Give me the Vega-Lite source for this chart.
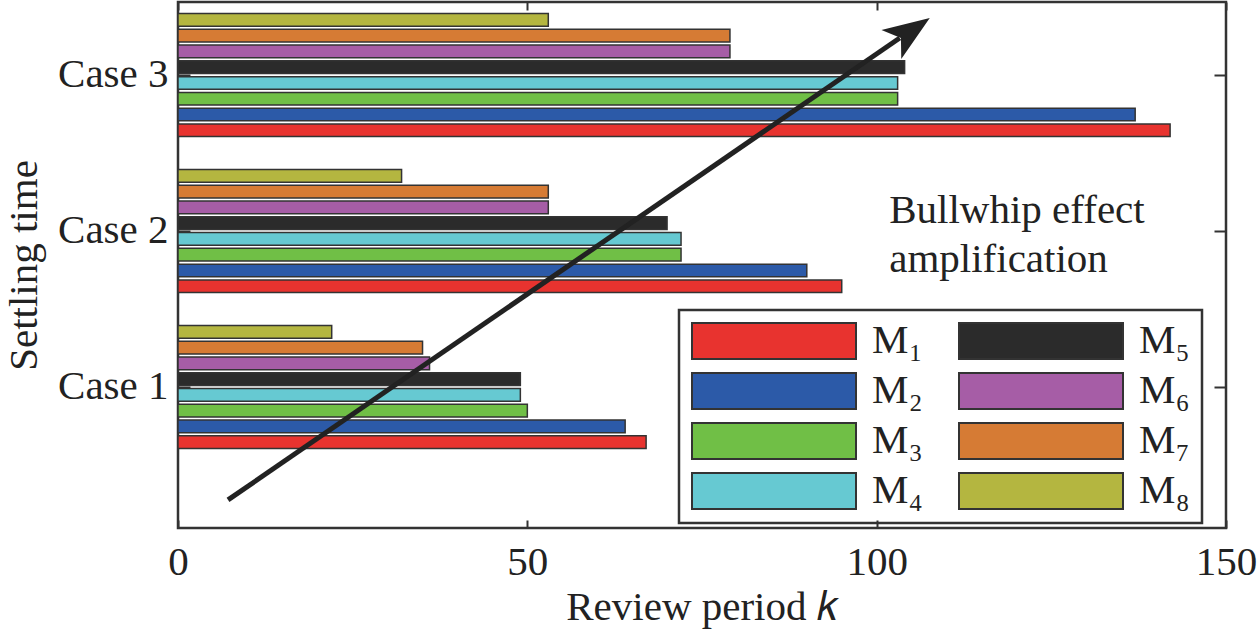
{
  "$schema": "https://vega.github.io/schema/vega-lite/v6.json",
  "width": 1048,
  "height": 526,
  "autosize": "none",
  "padding": {"left": 178, "top": 2, "right": 34, "bottom": 105},
  "background": "white",
  "config": {
    "font": "Liberation Serif",
    "view": {"stroke": "#333333", "strokeWidth": 2.5},
    "legend": {"strokeWidth": 2.5},
    "axis": {
      "labelFont": "Liberation Serif",
      "titleFont": "Liberation Serif",
      "labelFontSize": 41,
      "titleFontSize": 41,
      "labelColor": "#222222",
      "titleColor": "#222222",
      "titleFontWeight": "normal",
      "grid": false,
      "domain": false,
      "tickColor": "#333333",
      "tickWidth": 2
    }
  },
  "datasets": {
    "bars": [
      {"case": "Case 1", "model": "M₁", "period": 67},
      {"case": "Case 1", "model": "M₂", "period": 64},
      {"case": "Case 1", "model": "M₃", "period": 50},
      {"case": "Case 1", "model": "M₄", "period": 49},
      {"case": "Case 1", "model": "M₅", "period": 49},
      {"case": "Case 1", "model": "M₆", "period": 36},
      {"case": "Case 1", "model": "M₇", "period": 35},
      {"case": "Case 1", "model": "M₈", "period": 22},
      {"case": "Case 2", "model": "M₁", "period": 95},
      {"case": "Case 2", "model": "M₂", "period": 90},
      {"case": "Case 2", "model": "M₃", "period": 72},
      {"case": "Case 2", "model": "M₄", "period": 72},
      {"case": "Case 2", "model": "M₅", "period": 70},
      {"case": "Case 2", "model": "M₆", "period": 53},
      {"case": "Case 2", "model": "M₇", "period": 53},
      {"case": "Case 2", "model": "M₈", "period": 32},
      {"case": "Case 3", "model": "M₁", "period": 142},
      {"case": "Case 3", "model": "M₂", "period": 137},
      {"case": "Case 3", "model": "M₃", "period": 103},
      {"case": "Case 3", "model": "M₄", "period": 103},
      {"case": "Case 3", "model": "M₅", "period": 104},
      {"case": "Case 3", "model": "M₆", "period": 79},
      {"case": "Case 3", "model": "M₇", "period": 79},
      {"case": "Case 3", "model": "M₈", "period": 53}
    ],
    "arrow": [
      {"k": 7.16, "s": 0.276},
      {"k": 103.3, "s": 3.237}
    ],
    "head": [
      {"k": 107.6, "s": 3.365}
    ],
    "note": [
      {"k": 101.8, "s": 2.051, "label": "Bullwhip effect\namplification"}
    ]
  },
  "layer": [
    {
      "data": {"name": "bars"},
      "mark": {"type": "bar", "stroke": "#333333", "strokeWidth": 1.5},
      "encoding": {
        "y": {
          "field": "case",
          "type": "nominal",
          "sort": ["Case 3", "Case 2", "Case 1"],
          "scale": {"paddingInner": 0.192, "paddingOuter": 0.282, "align": 0.114},
          "axis": {
            "title": "Settling time",
            "orient": "left",
            "tickSize": -12,
            "labelPadding": 22,
            "titlePadding": 12
          }
        },
        "yOffset": {
          "field": "model",
          "type": "nominal",
          "sort": ["M₈", "M₇", "M₆", "M₅", "M₄", "M₃", "M₂", "M₁"],
          "scale": {"paddingInner": 0.2, "paddingOuter": 0.1}
        },
        "x": {
          "field": "period",
          "type": "quantitative",
          "scale": {"domain": [0, 150], "nice": false},
          "axis": {
            "orient": "bottom",
            "values": [0, 50, 100, 150],
            "format": "d",
            "tickSize": -8,
            "labelPadding": 22,
            "labelFlush": false,
            "title": "Review period 𝑘",
            "titlePadding": 5
          }
        },
        "color": {
          "field": "model",
          "type": "nominal",
          "scale": {
            "domain": ["M₁", "M₂", "M₃", "M₄", "M₅", "M₆", "M₇", "M₈"],
            "range": ["#E8332F", "#2C5AA8", "#70BF46", "#66C9D2", "#2B2B2B", "#A65DA6", "#D67B34", "#B4B640"]
          },
          "legend": {
            "title": null,
            "orient": "none",
            "legendX": 501,
            "legendY": 308,
            "columns": 2,
            "symbolType": "M-1,-0.22H1V0.22H-1Z",
            "symbolSize": 26896,
            "symbolStrokeColor": "#333333",
            "symbolStrokeWidth": 2,
            "symbolOpacity": 1,
            "clipHeight": 38,
            "rowPadding": 9,
            "columnPadding": 35,
            "labelOffset": 15,
            "labelFont": "Liberation Serif",
            "labelFontSize": 41,
            "labelColor": "#222222",
            "labelLimit": 0,
            "padding": 12,
            "strokeColor": "#333333"
          }
        }
      }
    },
    {
      "encoding": {
        "x": {
          "field": "k",
          "type": "quantitative",
          "scale": {"domain": [0, 150], "nice": false},
          "axis": {"orient": "top", "values": [0, 50, 100, 150], "labels": false, "tickSize": -8, "title": null}
        },
        "y": {
          "field": "s",
          "type": "quantitative",
          "scale": {"domain": [0.096, 3.468], "nice": false, "zero": false},
          "axis": {"orient": "right", "values": [1, 2, 3], "labels": false, "tickSize": -12, "title": null}
        }
      },
      "layer": [
        {
          "data": {"name": "arrow"},
          "mark": {"type": "line", "color": "#222222", "strokeWidth": 5}
        },
        {
          "data": {"name": "head"},
          "mark": {
            "type": "point",
            "shape": "M0,0L-4.66,-1.75L-3.5,0L-4.66,1.75Z",
            "size": 400,
            "angle": 325.5,
            "filled": true,
            "color": "#222222",
            "opacity": 1
          }
        },
        {
          "data": {"name": "note"},
          "mark": {
            "type": "text",
            "align": "left",
            "baseline": "alphabetic",
            "font": "Liberation Serif",
            "fontSize": 41,
            "lineHeight": 49,
            "lineBreak": "\n",
            "color": "#222222"
          },
          "encoding": {
            "text": {"field": "label"}
          }
        }
      ]
    }
  ],
  "resolve": {
    "scale": {"y": "independent"},
    "axis": {"x": "independent", "y": "independent"}
  }
}
